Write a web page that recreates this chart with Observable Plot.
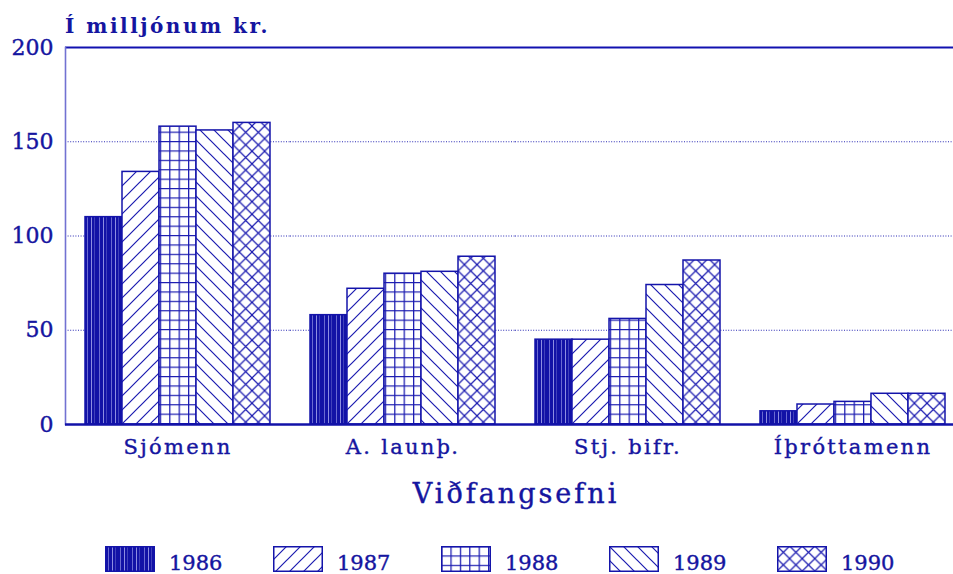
<!DOCTYPE html>
<html>
<head>
<meta charset="utf-8">
<script src="https://cdn.jsdelivr.net/npm/d3@7"></script>
<script src="https://cdn.jsdelivr.net/npm/@observablehq/plot@0.6"></script>
<style>
  html, body { margin: 0; padding: 0; background: #fff; overflow: hidden; }
  #wrap { position: relative; width: 953px; height: 574px; overflow: hidden; font-family: "DejaVu Serif", serif; color: #1515a0; }
  #chart { position: absolute; left: 0; top: 0; width: 953px; height: 470px; overflow: hidden; }
  #chart svg { max-width: none !important; height: 470px !important; }
  #title { position: absolute; left: 65px; top: 16px; font-size: 20px; font-weight: bold; letter-spacing: 2.5px; line-height: 1; white-space: nowrap; }
  #xlabel { position: absolute; left: 0; width: 953px; padding-left: 65px; box-sizing: border-box; text-align: center; top: 480px; font-size: 27px; letter-spacing: 3px; line-height: 1; text-indent: 14px; -webkit-text-stroke: 0.4px #1515a0; }
  #legend { position: absolute; left: 0; top: 546px; width: 953px; height: 28px; }
  .item { position: absolute; top: 0; height: 26px; display: flex; align-items: flex-end; white-space: nowrap; }
  .item span { font-size: 21px; line-height: 1; margin-left: 14px; position: relative; top: 2px; -webkit-text-stroke: 0.4px #1515a0; }
  g[aria-label="fx-axis tick label"] text { letter-spacing: 2.3px; }
  #chart svg text { stroke: #1515a0; stroke-width: 0.4px; }
</style>
</head>
<body>
<svg width="0" height="0" style="position:absolute">
  <defs>
    <pattern id="p1986" patternUnits="userSpaceOnUse" width="12" height="4">
      <rect width="12" height="4" fill="#1212a6"/>
      <rect x="3" width="1" height="4" fill="#6a6ad2"/>
      <rect x="7" width="1" height="4" fill="#8e8ee2"/>
      <rect x="10" width="0.8" height="4" fill="#4c4cc0"/>
    </pattern>
    <pattern id="p1987" patternUnits="userSpaceOnUse" width="14" height="14">
      <rect width="14" height="14" fill="#fff"/>
      <path d="M0,14 L14,0 M-2,2 L2,-2 M12,16 L16,12" stroke="#1a1ab0" stroke-width="1.2"/>
    </pattern>
    <pattern id="p1988" patternUnits="userSpaceOnUse" width="9.4" height="9.4">
      <rect width="9.4" height="9.4" fill="#fff"/>
      <path d="M0,0.6 H9.4 M0.6,0 V9.4" stroke="#1a1ab0" stroke-width="1.3"/>
    </pattern>
    <pattern id="p1989" patternUnits="userSpaceOnUse" width="14" height="14">
      <rect width="14" height="14" fill="#fff"/>
      <path d="M0,0 L14,14 M-2,12 L2,16 M12,-2 L16,2" stroke="#1a1ab0" stroke-width="1.2"/>
    </pattern>
    <pattern id="p1990" patternUnits="userSpaceOnUse" width="12.6" height="12.6">
      <rect width="12.6" height="12.6" fill="#fff"/>
      <path d="M-1,-1 L13.6,13.6 M-1,13.6 L13.6,-1" stroke="#1a1ab0" stroke-width="1.2"/>
    </pattern>
  </defs>
</svg>
<div id="wrap">
  <div id="chart"></div>
  <div id="title">Í milljónum kr.</div>
  <div id="xlabel">Viðfangsefni</div>
  <div id="legend"></div>
</div>
<script>
const groups = ["Sjómenn", "A. launþ.", "Stj. bifr.", "Íþróttamenn"];
const years = ["1986", "1987", "1988", "1989", "1990"];
const v1986 = [110, 58, 45, 7];
const v1987 = [134, 72, 45, 10.6];
const v1988 = [158, 80, 56, 12];
const v1989 = [156, 81, 74, 16.3];
const v1990 = [160, 89, 87, 16.3];
const yTicks = [0, 50, 100, 150, 200];
const gridTicks = [50, 100, 150];

const valuesByYear = {"1986": v1986, "1987": v1987, "1988": v1988, "1989": v1989, "1990": v1990};
const data = [];
groups.forEach((g, i) => years.forEach(y => data.push({group: g, year: y, value: valuesByYear[y][i]})));

const ink = "#1515a0";
const chart = Plot.plot({
  width: 965,
  height: 470,
  marginTop: 47,
  marginBottom: 46,
  marginLeft: 65,
  marginRight: 0,
  style: {fontFamily: "DejaVu Serif", color: ink, background: "transparent", overflow: "hidden", maxWidth: "none"},
  fx: {domain: groups, padding: 0, label: null, axis: null},
  x: {domain: years, paddingInner: 0, paddingOuter: 0.492, align: 0.49, axis: null},
  y: {domain: [0, 200], axis: null},
  color: {domain: years, range: years.map(y => `url(#p${y})`)},
  marks: [
    Plot.ruleY(gridTicks, {stroke: "#2a2ab4", strokeWidth: 1, strokeDasharray: "1,1.6"}),
    Plot.ruleY([200], {stroke: "#1212b0", strokeWidth: 2}),
    Plot.frame({anchor: "left", facetAnchor: "left", stroke: "#7272d2", strokeWidth: 1.6}),
    Plot.barY(data, {fx: "group", x: "year", y: "value", fill: "year", stroke: "#1414aa", strokeWidth: 1.5}),
    Plot.ruleY([0], {stroke: "#1212a8", strokeWidth: 2.5}),
    Plot.axisY({ticks: yTicks, tickSize: 0, tickPadding: 12, fontSize: 22, label: null, fill: ink}),
    Plot.axisFx({anchor: "bottom", tickSize: 0, tickPadding: 15, fontSize: 21, label: null, fill: ink})
  ]
});
document.getElementById("chart").appendChild(chart);

const legend = document.getElementById("legend");
years.forEach((y, i) => {
  const item = document.createElement("div");
  item.className = "item";
  item.style.left = (105 + i * 168) + "px";
  item.innerHTML = `<svg width="50" height="26"><rect x="0.75" y="0.75" width="48.5" height="24.5" fill="url(#p${y})" stroke="#1414aa" stroke-width="1.5"/></svg><span>${y}</span>`;
  legend.appendChild(item);
});
</script>
</body>
</html>
